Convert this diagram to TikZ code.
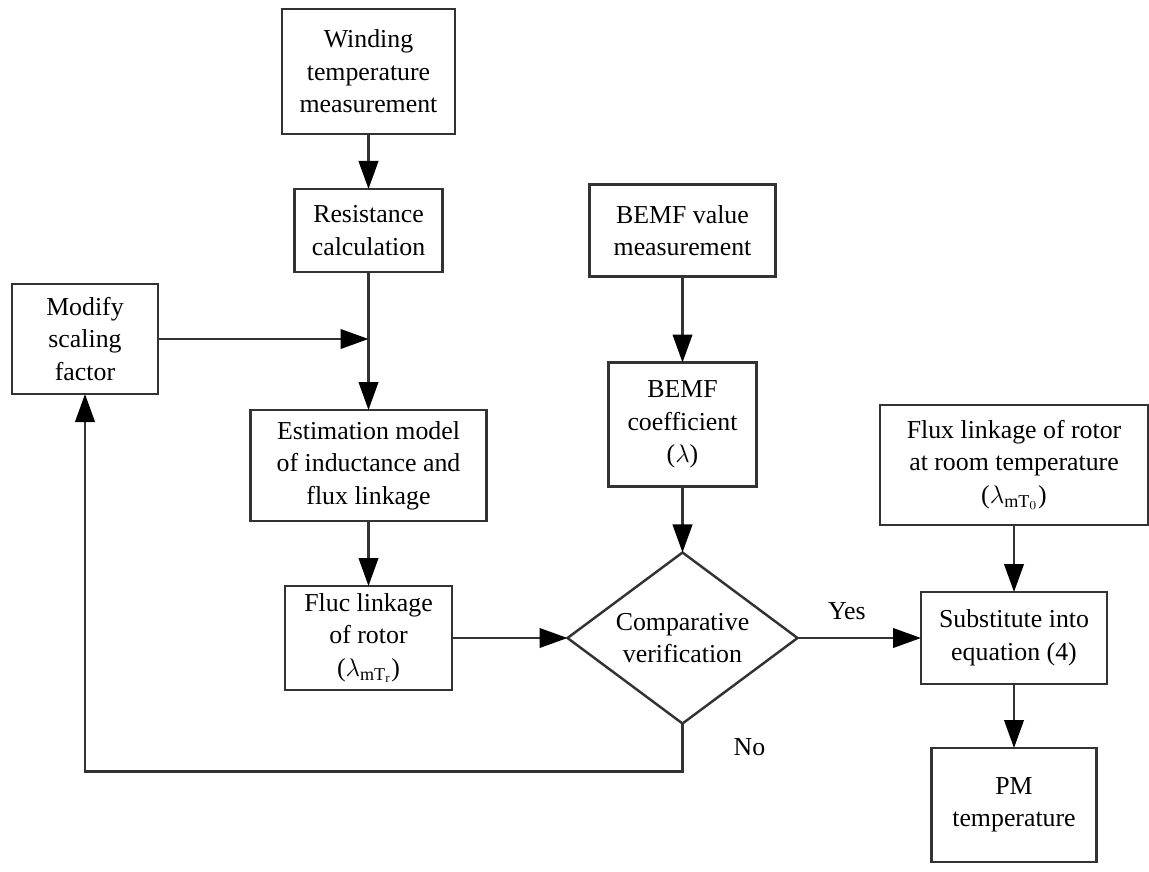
\documentclass[tikz,border=0pt]{standalone}
\usepackage{fontspec}
\setmainfont{Liberation Serif}
\usepackage{xcolor}
\usetikzlibrary{arrows.meta,positioning,shapes.geometric}

\begin{document}
\begin{tikzpicture}[
  node distance=1.3cm and 2.9cm,
  font=\fontsize{14.7}{18.5}\selectfont,
  box/.style={draw=black!80, line width=1.4pt, align=center, inner sep=0pt, outer sep=0pt},
  decision/.style={diamond, draw=black!80, line width=1.4pt, align=center, inner sep=0pt, outer sep=0pt, aspect=1.345},
  arrow/.style={-{Triangle[length=5.6mm, width=3.9mm, color=black]}, line width=1.4pt, draw=black!80},
  tag/.style={inner sep=0pt}
]
  \useasboundingbox (0,0) rectangle (22.98,-17.44);

  \node[box, minimum width=3.46cm, minimum height=2.5cm] (wind) at (7.37,-1.43) {Winding\\temperature\\measurement};
  \node[box, below=1.1cm of wind, minimum width=2.96cm, minimum height=1.66cm] (resist) {Resistance\\calculation};
  \node[box, below=2.76cm of resist, minimum width=4.72cm, minimum height=2.22cm] (estim) {Estimation model\\of inductance and\\flux linkage};
  \node[box, below=1.3cm of estim, minimum width=3.34cm, minimum height=2.08cm] (fluc) {Fluc linkage\\of rotor\\($\lambda_{\mathrm{mT}_{\mathrm{r}}}$)};
  \node[box, minimum width=2.92cm, minimum height=2.2cm] (modify) at (1.7,-6.78) {Modify\\scaling\\factor};

  \node[box, right=2.94cm of resist, minimum width=3.72cm, minimum height=1.84cm] (bemfval) {BEMF value\\measurement};
  \node[box, below=1.72cm of bemfval, minimum width=2.96cm, minimum height=2.48cm] (bemfcoef) {BEMF\\coefficient\\($\lambda$)};
  \node[decision, below=1.32cm of bemfcoef, minimum width=4.6cm, minimum height=3.42cm] (comp) {Comparative\\verification};

  \node[box, minimum width=5.36cm, minimum height=2.4cm] (flux0) at (20.28,-9.3) {Flux linkage of rotor\\at room temperature\\($\lambda_{\mathrm{mT}_{0}}$)};
  \node[box, below=1.34cm of flux0, minimum width=3.72cm, minimum height=1.84cm] (subst) {Substitute into\\equation (4)};
  \node[box, below=1.28cm of subst, minimum width=3.3cm, minimum height=2.28cm] (pm) {PM\\temperature};

  \coordinate (join) at (modify.east -| resist.south);

  \draw[arrow] (wind) -- (resist);
  \draw[arrow] (resist) -- (estim);
  \draw[arrow] (modify.east) -- (join);
  \draw[arrow] (estim) -- (fluc);
  \draw[arrow] (fluc.east) -- (fluc.east -| comp.west);
  \draw[arrow] (bemfval) -- (bemfcoef);
  \draw[arrow] (bemfcoef) -- (comp);
  \draw[arrow] (comp.east) -- node[tag, pos=0.4, above=0.34cm] {Yes} (comp.east -| subst.west);
  \draw[arrow] (flux0) -- (subst);
  \draw[arrow] (subst) -- (pm);
  \draw[arrow] (comp.south) -- node[tag, right=1.0cm] {No} ++(0,-0.96) -| (modify.south);
\end{tikzpicture}
\end{document}
